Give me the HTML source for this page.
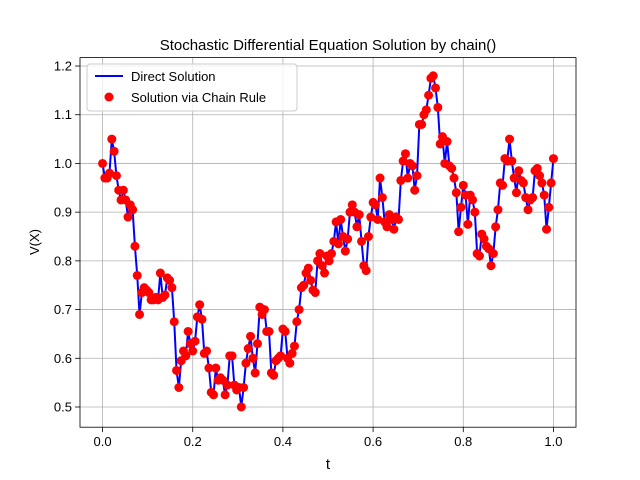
<!DOCTYPE html>
<html><head><meta charset="utf-8"><style>
body{margin:0;background:#fff;}
svg{display:block;font-family:"Liberation Sans","DejaVu Sans",sans-serif;}
</style></head><body>
<svg id="chart" width="640" height="480" viewBox="0 0 640 480">
<rect width="640" height="480" fill="#fff"/>
<text x="328" y="50" text-anchor="middle" font-size="15">Stochastic Differential Equation Solution by chain()</text>
<g id="grid"></g><g id="series"></g><g id="axes"></g>
<text x="328" y="469" text-anchor="middle" font-size="15">t</text>
<text transform="translate(39,242) rotate(-90)" text-anchor="middle" font-size="13">V(X)</text>
<g>
<rect x="87" y="64" width="210" height="47" rx="3" fill="#fff" fill-opacity="0.8" stroke="#ccc"/>
<g>
<line x1="95" y1="76" x2="123" y2="76" stroke="#0000ff" stroke-width="2"/>
<text x="131" y="81" font-size="13">Direct Solution</text></g>
<g>
<circle cx="109" cy="97" r="4.5" fill="#ff0000"/>
<text x="131" y="102" font-size="13">Solution via Chain Rule</text></g>
</g>
</svg>
<script>
const values=[1.0,0.97,0.97,0.98,1.05,1.025,0.975,0.945,0.925,0.945,0.925,0.89,0.915,0.905,0.83,0.77,0.69,0.735,0.745,0.74,0.735,0.72,0.72,0.725,0.72,0.775,0.725,0.73,0.765,0.76,0.745,0.675,0.575,0.54,0.595,0.615,0.605,0.655,0.63,0.615,0.635,0.685,0.71,0.68,0.61,0.615,0.58,0.53,0.525,0.58,0.555,0.56,0.555,0.525,0.545,0.605,0.605,0.545,0.535,0.54,0.5,0.54,0.59,0.62,0.645,0.6,0.57,0.63,0.705,0.69,0.7,0.655,0.655,0.57,0.565,0.595,0.6,0.605,0.66,0.655,0.6,0.59,0.61,0.625,0.675,0.7,0.745,0.75,0.775,0.785,0.76,0.74,0.735,0.8,0.815,0.79,0.775,0.81,0.8,0.815,0.84,0.88,0.835,0.885,0.85,0.82,0.845,0.9,0.915,0.9,0.87,0.895,0.84,0.79,0.78,0.85,0.89,0.92,0.915,0.885,0.97,0.93,0.88,0.87,0.895,0.885,0.865,0.89,0.885,0.965,1.005,1.02,0.97,1.0,0.995,0.945,0.975,1.08,1.08,1.1,1.11,1.14,1.175,1.18,1.155,1.115,1.04,1.055,1.0,1.045,0.995,0.99,0.97,0.94,0.86,0.91,0.955,0.935,0.875,0.935,0.925,0.9,0.815,0.81,0.855,0.845,0.83,0.825,0.79,0.815,0.87,0.905,0.96,0.955,1.01,1.005,1.05,1.005,0.97,0.94,0.985,0.965,0.96,0.93,0.905,0.925,0.93,0.985,0.99,0.975,0.96,0.935,0.865,0.91,0.96,1.01];
const xTicks=[0.0,0.2,0.4,0.6,0.8,1.0];
const xTickLabels=["0.0","0.2","0.4","0.6","0.8","1.0"];
const yTicks=[0.5,0.6,0.7,0.8,0.9,1.0,1.1,1.2];
const yTickLabels=["0.5","0.6","0.7","0.8","0.9","1.0","1.1","1.2"];
const NS="http://www.w3.org/2000/svg";
const L=80,R=576,T=57.6,B=427.2;
const xMin=-0.05,xMax=1.05,yMin=0.4585,yMax=1.2173;
const xs=t=>L+(t-xMin)/(xMax-xMin)*(R-L);
const ys=v=>B-(v-yMin)/(yMax-yMin)*(B-T);
function mk(tag,attrs,parent){const e=document.createElementNS(NS,tag);for(const k in attrs)e.setAttribute(k,attrs[k]);parent.appendChild(e);return e;}
const grid=document.getElementById('grid'),axes=document.getElementById('axes'),series=document.getElementById('series');
xTicks.forEach((t,i)=>{
 const g=mk('line',{x1:xs(t),x2:xs(t),y1:T,y2:B,stroke:'#b0b0b0','stroke-width':0.8},grid);
 
 
 mk('line',{x1:xs(t),x2:xs(t),y1:B,y2:B+4.9,stroke:'#000','stroke-width':0.8},axes);
 const tx=mk('text',{x:xs(t),y:B+19,'text-anchor':'middle','font-size':13},axes);
 tx.textContent=xTickLabels[i];
 
 
});
yTicks.forEach((v,i)=>{
 const g=mk('line',{x1:L,x2:R,y1:ys(v),y2:ys(v),stroke:'#b0b0b0','stroke-width':0.8},grid);
 
 
 mk('line',{x1:L-4.9,x2:L,y1:ys(v),y2:ys(v),stroke:'#000','stroke-width':0.8},axes);
 const tx=mk('text',{x:L-8,y:ys(v)+4.5,'text-anchor':'end','font-size':13},axes);
 tx.textContent=yTickLabels[i];
 
 
});
const fr=mk('rect',{x:L,y:T,width:R-L,height:B-T,fill:'none',stroke:'#000','stroke-width':0.8},axes);


const n=values.length;
const pts=values.map((v,i)=>[xs(i/(n-1)),ys(v)]);
const line=mk('polyline',{points:pts.map(p=>p.join(',')).join(' '),fill:'none',stroke:'#0000ff','stroke-width':2,'stroke-linejoin':'round'},series);


pts.forEach(p=>{
 const c=mk('circle',{cx:p[0],cy:p[1],r:4.5,fill:'#ff0000'},series);
 
 
});
</script>
</body></html>
